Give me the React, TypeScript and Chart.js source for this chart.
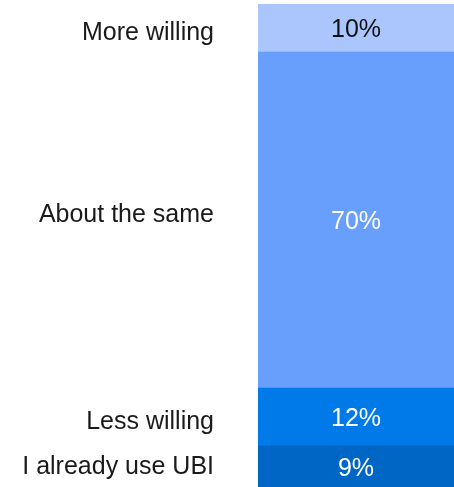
import React, { useEffect, useRef } from "react";
import { Chart, registerables } from "chart.js";

Chart.register(...registerables);

const categories = ["I already use UBI", "Less willing", "About the same", "More willing"];
const values = [9, 12, 70, 10];
const colors = ["#0066c6", "#0079e9", "#689ffd", "#abc6fd"];
const valueLabelColors = ["#ffffff", "#ffffff", "#ffffff", "#111111"];
const labelOffsets = [0, 5, -5, 5];

const FONT = "'Liberation Sans', Arial, sans-serif";

const labelPlugin = {
  id: "segLabels",
  afterDatasetsDraw(chart: any) {
    const ctx = chart.ctx;
    ctx.save();
    chart.data.datasets.forEach((ds: any, i: number) => {
      const meta = chart.getDatasetMeta(i);
      const el: any = meta.data[0];
      if (!el) return;
      const yc = (el.y + el.base) / 2;
      ctx.font = `25px ${FONT}`;
      ctx.textBaseline = "middle";
      ctx.textAlign = "center";
      ctx.fillStyle = valueLabelColors[i];
      ctx.fillText(`${values[i]}%`, el.x, yc + 2);
      ctx.textAlign = "right";
      ctx.fillStyle = "#1a1a1a";
      ctx.fillText(categories[i], 214, yc + labelOffsets[i]);
    });
    ctx.restore();
  },
};

export default function App() {
  const ref = useRef<HTMLCanvasElement | null>(null);
  useEffect(() => {
    document.body.style.margin = "0";
    const total = values.reduce((a, b) => a + b, 0);
    const chart = new Chart(ref.current!, {
      type: "bar",
      data: {
        labels: [""],
        datasets: values.map((v, i) => ({
          label: categories[i],
          data: [v],
          backgroundColor: colors[i],
          borderWidth: 0,
          barPercentage: 1,
          categoryPercentage: 1,
        })),
      },
      options: {
        animation: false,
        responsive: false,
        maintainAspectRatio: false,
        layout: { padding: { left: 258, top: 4, right: 0, bottom: 0 } },
        plugins: { legend: { display: false }, tooltip: { enabled: false } },
        scales: {
          x: { stacked: true, display: false },
          y: { stacked: true, display: false, min: 0, max: total },
        },
      },
      plugins: [labelPlugin],
    });
    return () => chart.destroy();
  }, []);
  return (
    <div style={{ position: "fixed", left: 0, top: 0, width: 454, height: 487, overflow: "hidden", background: "#fff" }}>
      <canvas ref={ref} width={454} height={489} style={{ display: "block" }} />
    </div>
  );
}
